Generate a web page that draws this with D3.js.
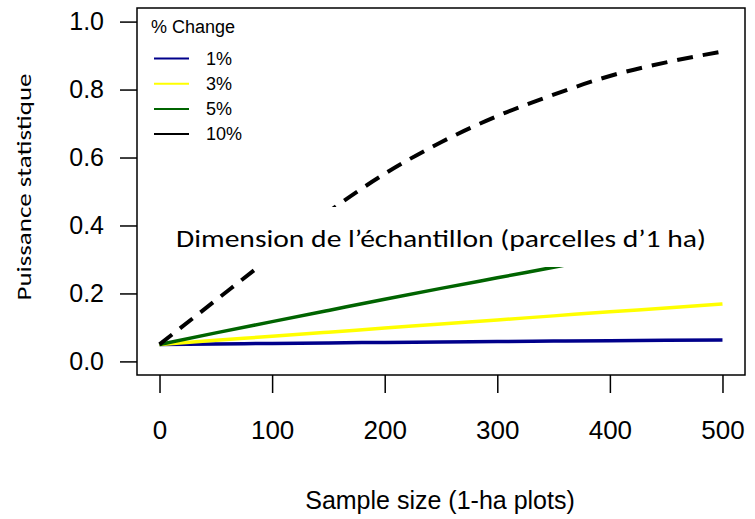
<!DOCTYPE html>
<html>
<head>
<meta charset="utf-8">
<script src="https://cdn.jsdelivr.net/npm/d3@7"></script>
<style>
  body { margin: 0; background: #fff; }
  svg { display: block; }
</style>
</head>
<body>
<div id="chart"></div>
<script>
// values
var sampleSizes = [0, 50, 100, 150, 200, 250, 300, 350, 400, 450, 500];
var power1 = [0.05, 0.0515, 0.053, 0.0545, 0.056, 0.057, 0.0585, 0.06, 0.061, 0.062, 0.063];
var power3 = [0.05, 0.062, 0.074, 0.086, 0.098, 0.110, 0.122, 0.134, 0.146, 0.157, 0.169];
var power5 = [0.05, 0.084, 0.117, 0.15, 0.183, 0.215, 0.246, 0.277, 0.308, 0.338, 0.368];
var power10 = [0.05, 0.18, 0.31, 0.44, 0.552, 0.645, 0.722, 0.785, 0.84, 0.88, 0.912];
var seriesNames = ["1%", "3%", "5%", "10%"];
var seriesColors = ["#00008b", "#ffff00", "#006400", "#000000"];
var xTicks = [0, 100, 200, 300, 400, 500];
var yTicks = [0, 0.2, 0.4, 0.6, 0.8, 1.0];

var width = 755,
    height = 519,
    margin = {top: 8, right: 10, bottom: 144, left: 137};

var svg = d3.select("#chart").append("svg")
    .attr("width", width)
    .attr("height", height);

// R style: 4% padding around the data range
var x = d3.scaleLinear().domain([-20, 520]).range([margin.left, width - margin.right]);
var y = d3.scaleLinear().domain([-0.04, 1.04]).range([height - margin.bottom, margin.top]);

var series = [power1, power3, power5, power10].map(function(vals, i) {
    return {
        name: seriesNames[i],
        color: seriesColors[i],
        dashed: i == 3,
        values: sampleSizes.map(function(s, j) { return {x: s, y: vals[j]}; })
    };
});

var line = d3.line()
    .x(function(d) { return x(d.x); })
    .y(function(d) { return y(d.y); })
    .curve(d3.curveMonotoneX);

svg.selectAll("path.series")
    .data(series)
    .enter().append("path")
    .attr("class", "series")
    .attr("d", function(d) { return line(d.values); })
    .attr("fill", "none")
    .attr("stroke", function(d) { return d.color; })
    .attr("stroke-width", function(d) { return d.dashed ? 4 : 3.5; })
    .attr("stroke-dasharray", function(d) { return d.dashed ? "16,10" : null; });

// pasted caption box on top of the lines
svg.append("rect")
    .attr("x", 160)
    .attr("y", 207)
    .attr("width", 580)
    .attr("height", 60)
    .attr("fill", "#fff");

svg.append("text")
    .attr("x", 176)
    .attr("y", 246.5)
    .attr("font-family", "Carlito, Lato, sans-serif")
    .attr("font-size", 24.5)
    .attr("textLength", 530)
    .attr("lengthAdjust", "spacingAndGlyphs")
    .attr("fill", "#000")
    .text("Dimension de l\u2019\u00e9chantillon (parcelles d\u20191 ha)");

// frame
svg.append("rect")
    .attr("x", x.range()[0])
    .attr("y", y.range()[1])
    .attr("width", x.range()[1] - x.range()[0])
    .attr("height", y.range()[0] - y.range()[1])
    .attr("fill", "none")
    .attr("stroke", "#000")
    .attr("stroke-width", 1.5);

// axes
var xAxis = svg.append("g")
    .attr("transform", "translate(0," + y.range()[0] + ")")
    .call(d3.axisBottom(x).tickValues(xTicks).tickSize(18).tickPadding(28).tickFormat(d3.format("d")));
xAxis.select(".domain").remove();
xAxis.selectAll("line").attr("stroke", "#000").attr("stroke-width", 1.5);
xAxis.selectAll("text")
    .attr("font-family", "Liberation Sans, Arial, sans-serif")
    .attr("font-size", 26)
    .attr("fill", "#000");

var yAxis = svg.append("g")
    .attr("transform", "translate(" + x.range()[0] + ",0)")
    .call(d3.axisLeft(y).tickValues(yTicks).tickSize(17).tickPadding(16).tickFormat(d3.format(".1f")));
yAxis.select(".domain").remove();
yAxis.selectAll("line").attr("stroke", "#000").attr("stroke-width", 1.5);
yAxis.selectAll("text")
    .attr("font-family", "Liberation Sans, Arial, sans-serif")
    .attr("font-size", 25)
    .attr("fill", "#000");

// axis titles
svg.append("text")
    .attr("x", 440)
    .attr("y", 509)
    .attr("text-anchor", "middle")
    .attr("font-family", "Liberation Sans, Arial, sans-serif")
    .attr("font-size", 25)
    .text("Sample size (1-ha plots)");

svg.append("text")
    .attr("transform", "translate(31,187) rotate(-90)")
    .attr("text-anchor", "middle")
    .attr("font-family", "Carlito, Lato, sans-serif")
    .attr("font-size", 20)
    .attr("textLength", 227)
    .attr("lengthAdjust", "spacingAndGlyphs")
    .text("Puissance statistique");

// legend
var legend = svg.append("g").attr("transform", "translate(151,0)");
legend.append("text")
    .attr("x", 0)
    .attr("y", 33)
    .attr("font-family", "Liberation Sans, Arial, sans-serif")
    .attr("font-size", 18)
    .text("% Change");

var item = legend.selectAll("g.item")
    .data(series)
    .enter().append("g")
    .attr("class", "item")
    .attr("transform", function(d, i) { return "translate(0," + (58.5 + i * 25.2) + ")"; });

item.append("line")
    .attr("x1", 3)
    .attr("x2", 38)
    .attr("stroke", function(d) { return d.color; })
    .attr("stroke-width", 2);

item.append("text")
    .attr("x", 55)
    .attr("dy", "0.35em")
    .attr("font-family", "Liberation Sans, Arial, sans-serif")
    .attr("font-size", 18)
    .text(function(d) { return d.name; });
</script>
</body>
</html>
